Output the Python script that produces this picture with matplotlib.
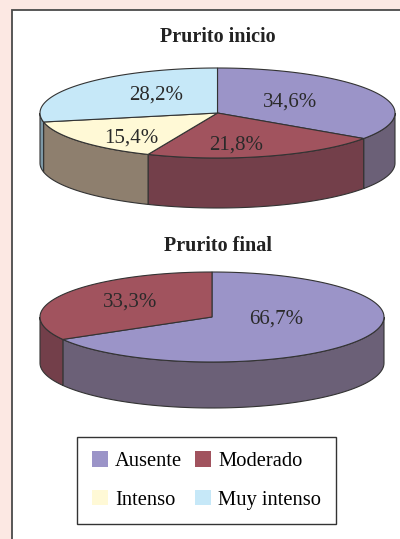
import numpy as np
import matplotlib.pyplot as plt
from matplotlib.patches import Polygon, Rectangle, Patch

# data
categories = ["Ausente", "Moderado", "Intenso", "Muy intenso"]
inicio_values = [34.6, 21.8, 15.4, 28.2]
inicio_labels = ["34,6%", "21,8%", "15,4%", "28,2%"]
final_values = [66.7, 33.3]
final_labels = ["66,7%", "33,3%"]

# styles
top_colors = ["#9b94c8", "#a1535e", "#fff9d6", "#c6e8f8"]
side_colors = ["#6b6077", "#733f4a", "#8e7f6e", "#7d98a6"]
edge = "#333333"
plt.rcParams['font.family'] = ['Liberation Serif', 'DejaVu Serif']


def pie3d(ax, values, labels, cx, cy, a, b, depth, label_k):
    total = float(sum(values))
    t0 = 90.0
    spans = []
    for v in values:
        t1 = t0 - v / total * 360.0
        spans.append((t1, t0))
        t0 = t1
    # front walls
    for i, (t1, t0) in enumerate(spans):
        lo, hi = max(t1, -180.0), min(t0, 0.0)
        if lo >= hi:
            continue
        th = np.radians(np.linspace(lo, hi, 80))
        xs = cx + a * np.cos(th)
        ys = cy - b * np.sin(th)
        pts = np.concatenate([np.column_stack([xs, ys]),
                              np.column_stack([xs[::-1], ys[::-1] + depth])])
        ax.add_patch(Polygon(pts, closed=True, fc=side_colors[i], ec=edge, lw=0.8))
    # top face
    for i, (t1, t0) in enumerate(spans):
        th = np.radians(np.linspace(t1, t0, 120))
        xs = cx + a * np.cos(th)
        ys = cy - b * np.sin(th)
        pts = np.vstack([[cx, cy], np.column_stack([xs, ys])])
        ax.add_patch(Polygon(pts, closed=True, fc=top_colors[i], ec=edge, lw=0.8))
        mid = np.radians((t0 + t1) / 2)
        kx, ky = label_k[i]
        ax.text(cx + kx * a * np.cos(mid), cy + 2 - ky * b * np.sin(mid), labels[i],
                ha='center', va='center', fontsize=15, color='#2a2a2a')


fig = plt.figure(figsize=(4.0, 5.39), dpi=100, facecolor='#fce8e3')
ax = fig.add_axes([0, 0, 1, 1])
ax.set_xlim(0, 400)
ax.set_ylim(539, 0)
ax.axis('off')

ax.add_patch(Rectangle((12, 10), 420, 560, fc='white', ec='#4a4a4a', lw=1.3))

ax.text(218, 37, "Prurito inicio", ha='center', va='center', fontsize=14.5,
        fontweight='bold', color='#222222')
pie3d(ax, inicio_values, inicio_labels, 217.5, 113, 177.5, 45, 50,
      [(0.46, 0.62), (0.385, 0.69), (0.63, 0.81), (0.45, 0.70)])

ax.text(218, 246, "Prurito final", ha='center', va='center', fontsize=14.5,
        fontweight='bold', color='#222222')
pie3d(ax, final_values, final_labels, 212, 317, 172, 45, 46,
      [(0.434, 0.0), (0.547, 0.75)])

# legend is filled column by column, so reorder to read row by row
order = [0, 2, 1, 3]
handles = [Patch(fc=top_colors[i], ec='none') for i in order]
names = [categories[i] for i in order]
ax.legend(handles, names, ncol=2, loc='center', bbox_to_anchor=(0.516, 0.1085),
          fontsize=14.8, frameon=True, fancybox=False, edgecolor='#333333',
          handlelength=0.8, handleheight=0.8, handletextpad=0.35,
          columnspacing=0.6, labelspacing=0.9, borderpad=0.7, framealpha=1)

fig.savefig('out.png', dpi=100, facecolor=fig.get_facecolor())
